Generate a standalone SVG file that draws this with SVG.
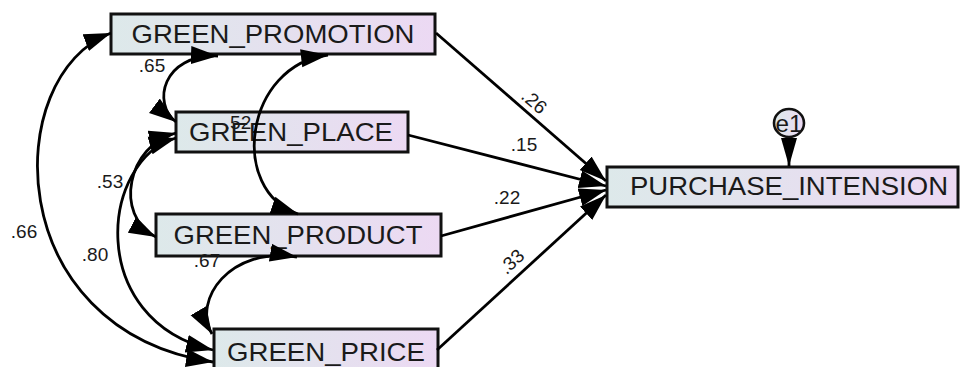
<svg xmlns="http://www.w3.org/2000/svg" width="960" height="367" viewBox="0 0 960 367">
<defs>
<linearGradient id="boxg" x1="0" y1="0" x2="1" y2="0">
<stop offset="0" stop-color="#dde9ea"/>
<stop offset="1" stop-color="#ecd9f3"/>
</linearGradient>
<marker id="ah" markerUnits="userSpaceOnUse" markerWidth="28" markerHeight="20" refX="27" refY="9" orient="auto-start-reverse" viewBox="0 0 28 18">
<path d="M0,0 L27,9 L0,18 z" fill="#000"/>
</marker>
<marker id="ahl" markerUnits="userSpaceOnUse" markerWidth="30" markerHeight="18" refX="28" refY="8" orient="auto" viewBox="0 0 30 16">
<path d="M0,0 L28,8 L0,16 z" fill="#000"/>
</marker>
<style>
.box{fill:url(#boxg);stroke:#111;stroke-width:3}
.lbl{font-family:"Liberation Sans",Arial,sans-serif;font-size:26px;fill:#1a1a1a;text-anchor:middle}
.num{font-family:"Liberation Sans",Arial,sans-serif;font-size:19px;fill:#1a1a1a;text-anchor:middle}
.con{fill:none;stroke:#000;stroke-width:2.8}
</style>
</defs>
<g id="green_promotion">
<rect class="box" x="111" y="14" width="324" height="40"/>
<text class="lbl" x="273" y="43" textLength="283" lengthAdjust="spacingAndGlyphs">GREEN_PROMOTION</text>
</g>
<g id="green_place">
<rect class="box" x="176" y="112" width="232" height="40"/>
<text class="lbl" x="291" y="141" textLength="204" lengthAdjust="spacingAndGlyphs">GREEN_PLACE</text>
</g>
<g id="green_product">
<rect class="box" x="156" y="214" width="285" height="42"/>
<text class="lbl" x="298" y="244" textLength="249" lengthAdjust="spacingAndGlyphs">GREEN_PRODUCT</text>
</g>
<g id="green_price">
<rect class="box" x="214" y="329" width="224" height="42"/>
<text class="lbl" x="326" y="361" textLength="198" lengthAdjust="spacingAndGlyphs">GREEN_PRICE</text>
</g>
<g id="purchase_intension">
<rect class="box" x="607" y="167" width="351" height="40"/>
<text class="lbl" x="789" y="195" textLength="318" lengthAdjust="spacingAndGlyphs">PURCHASE_INTENSION</text>
</g>
<g id="e1">
<ellipse cx="789" cy="123" rx="15" ry="14" fill="url(#boxg)" stroke="#111" stroke-width="2.6"/>
<text class="lbl" x="789" y="132" textLength="27" lengthAdjust="spacingAndGlyphs" style="font-size:24px">e1</text>
</g>
<g id="connectors">
<path class="con" d="M436,33 L606,181" marker-end="url(#ah)"/>
<path class="con" d="M408,135 L606,186" marker-end="url(#ah)"/>
<path class="con" d="M441,236 L606,190" marker-end="url(#ah)"/>
<path class="con" d="M437,350 L606,195" marker-end="url(#ah)"/>
<path class="con" d="M789,138 L789,166" marker-end="url(#ahl)"/>
<path class="con" d="M218,56 C162,54 152,104 176,122" marker-start="url(#ah)" marker-end="url(#ah)"/>
<path class="con" d="M328,55 C245,65 228,190 298,214" marker-start="url(#ah)" marker-end="url(#ah)"/>
<path class="con" d="M176,133 C128,145 113,215 156,237" marker-start="url(#ah)" marker-end="url(#ah)"/>
<path class="con" d="M176,138 C100,160 85,320 213,350" marker-start="url(#ah)" marker-end="url(#ah)"/>
<path class="con" d="M111,33 C0,75 0,330 213,362" marker-start="url(#ah)" marker-end="url(#ah)"/>
<path class="con" d="M297,257 C230,246 192,300 212,334" marker-start="url(#ah)" marker-end="url(#ah)"/>
<text class="num" x="534" y="108" transform="rotate(41 534 102)">.26</text>
<text class="num" x="524" y="151">.15</text>
<text class="num" x="507" y="204">.22</text>
<text class="num" x="512" y="268" transform="rotate(-43 512 262)">.33</text>
<text class="num" x="152" y="72">.65</text>
<text class="num" x="238" y="129">.52</text>
<text class="num" x="110" y="188">.53</text>
<text class="num" x="24" y="238">.66</text>
<text class="num" x="95" y="261">.80</text>
<text class="num" x="207" y="267">.67</text>
</g>
</svg>
